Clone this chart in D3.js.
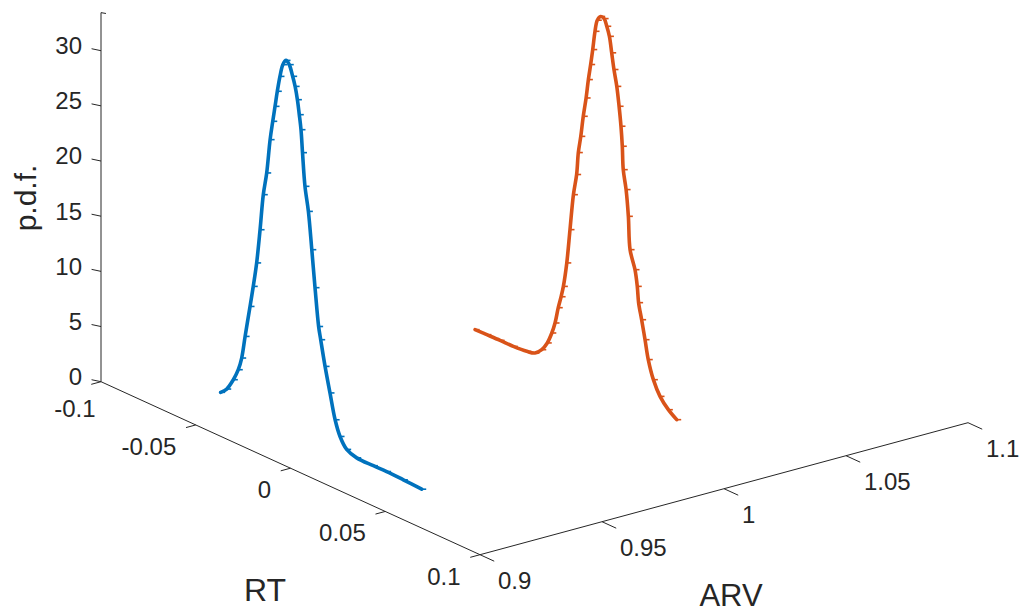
<!DOCTYPE html>
<html>
<head>
<meta charset="utf-8">
<script src="https://cdn.jsdelivr.net/npm/d3@7"></script>
<style>
  body { margin: 0; background: #fff; }
  text { font-family: "Liberation Sans", Arial, Helvetica, sans-serif; fill: #262626; }
</style>
</head>
<body>
<svg id="chart" width="1024" height="614"></svg>
<script>
// Axis ticks
const rtTicks = [-0.1, -0.05, 0, 0.05, 0.1];
const rtTickLabels = ["-0.1", "-0.05", "0", "0.05", "0.1"];
const arvTicks = [0.9, 0.95, 1, 1.05, 1.1];
const arvTickLabels = ["0.9", "0.95", "1", "1.05", "1.1"];
const pdfTicks = [0, 5, 10, 15, 20, 25, 30];
const pdfTickLabels = ["0", "5", "10", "15", "20", "25", "30"];
const pdfMax = 33.45;

// Density of RT drawn at a fixed ARV (blue)
const blueARV = 0.921;
const blueRT = [-0.0639, -0.0607, -0.0572, -0.0546, -0.0528, -0.0510, -0.0484, -0.0467, -0.0449, -0.0431,
  -0.0414, -0.0396, -0.0378, -0.0364, -0.0352, -0.0340, -0.0326, -0.0311, -0.0294, -0.0277,
  -0.0259, -0.0246, -0.0234, -0.0224, -0.0215, -0.0207, -0.0194, -0.0176, -0.0158, -0.0141,
  -0.0122, -0.0111, -0.0088, -0.0062, -0.0035, -0.0009, 0.0026, 0.0079, 0.0167, 0.0237,
  0.0325, 0.0422];
const bluePDF = [0.61, 1.16, 2.28, 3.39, 4.59, 6.69, 9.61, 11.56, 13.83, 16.98,
  20.29, 22.4, 25.56, 27.33, 28.78, 30.24, 31.7, 32.88, 33.4, 33.15,
  32.23, 31.42, 30.31, 29.03, 27.74, 25.72, 22.77, 20.64, 17.31, 14.0,
  10.63, 9.52, 7.28, 5.08, 2.86, 1.55, 0.65, 0.3, 0.28, 0.3,
  0.24, 0.15];

// Density of RT drawn at a fixed ARV (orange)
const orangeARV = 1.0255;
const orangeRT = [-0.0642, -0.0580, -0.0510, -0.0440, -0.0369, -0.0326, -0.0290, -0.0261, -0.0237, -0.0220,
  -0.0203, -0.0188, -0.0176, -0.0158, -0.0141, -0.0123, -0.0106, -0.0097, -0.0084, -0.0071,
  -0.0056, -0.0044, -0.0032, -0.0021, -0.0009, 0.0003, 0.0021, 0.0039, 0.0053, 0.0067,
  0.0079, 0.0091, 0.0106, 0.0118, 0.0128, 0.0135, 0.0140, 0.0155, 0.0167, 0.0176,
  0.0202, 0.0214, 0.0221, 0.0237, 0.0255, 0.0272, 0.0299, 0.0334, 0.0378, 0.0422];
const orangePDF = [0.02, 0.05, 0.08, 0.08, 0.19, 0.38, 0.96, 1.8, 2.89, 3.93,
  5.45, 6.56, 7.59, 9.86, 13.01, 16.32, 18.28, 20.34, 21.91, 23.83,
  25.61, 27.37, 28.83, 30.27, 32.02, 33.12, 33.6, 33.55, 32.96, 32.16,
  30.76, 29.34, 27.93, 26.22, 24.49, 22.73, 20.65, 18.96, 16.63, 13.68,
  12.07, 10.65, 9.23, 7.81, 6.14, 4.47, 2.86, 1.62, 0.76, 0.2];

const series = [
  { arv: blueARV, rt: blueRT, pdf: bluePDF, color: "#0072BD" },
  { arv: orangeARV, rt: orangeRT, pdf: orangePDF, color: "#D95319" }
];

// Oblique 3-D projection: each data axis contributes a screen offset
const origin = [101, 381.7];
const rtX = d3.scaleLinear().domain([-0.1, 0.1]).range([0, 379]);
const rtY = d3.scaleLinear().domain([-0.1, 0.1]).range([0, 173]);
const arvX = d3.scaleLinear().domain([0.9, 1.1]).range([0, 488]);
const arvY = d3.scaleLinear().domain([0.9, 1.1]).range([0, -132]);
const zY = d3.scaleLinear().domain([0, 30]).range([0, -331]);

function proj(rt, arv, z) {
  return [origin[0] + rtX(rt) + arvX(arv), origin[1] + rtY(rt) + arvY(arv) + zY(z)];
}

const svg = d3.select("#chart");
const axisColor = "#262626";
const tickFont = 24;

const axes = svg.append("g").attr("stroke", axisColor).attr("stroke-width", 1).attr("fill", "none");

function seg(a, b) {
  axes.append("line").attr("x1", a[0]).attr("y1", a[1]).attr("x2", b[0]).attr("y2", b[1]);
}

// z axis (p.d.f.)
seg(proj(-0.1, 0.9, 0), proj(-0.1, 0.9, pdfMax));
seg(proj(-0.1, 0.9, pdfMax), proj(-0.1 + 0.0016, 0.9 + 0.0008, pdfMax));
pdfTicks.forEach((t, i) => {
  const p = proj(-0.1, 0.9, t);
  const q = proj(-0.1 - 0.0033, 0.9 - 0.0013, t);
  seg(p, q);
  svg.append("text").attr("x", p[0] - 19).attr("y", p[1] - 5).attr("dy", "0.35em")
    .attr("text-anchor", "end").attr("font-size", tickFont).text(pdfTickLabels[i]);
});

// RT axis; the first label sits lower to clear the z-axis "0"
seg(proj(-0.1, 0.9, 0), proj(0.1, 0.9, 0));
rtTicks.forEach((t, i) => {
  const p = proj(t, 0.9, 0);
  const q = proj(t, 0.9 - 0.004, 0);
  seg(p, q);
  const dx = i === 0 ? -5.5 : -19.5;
  const dy = i === 0 ? 26.5 : 21.5;
  svg.append("text").attr("x", p[0] + dx).attr("y", p[1] + dy).attr("dy", "0.35em")
    .attr("text-anchor", "end").attr("font-size", tickFont).text(rtTickLabels[i]);
});

// ARV axis
seg(proj(0.1, 0.9, 0), proj(0.1, 1.1, 0));
arvTicks.forEach((t, i) => {
  const p = proj(0.1, t, 0);
  const q = proj(0.1 + 0.0075, t, 0);
  seg(p, q);
  svg.append("text").attr("x", p[0] + 18).attr("y", p[1] + 25.5).attr("dy", "0.35em")
    .attr("text-anchor", "start").attr("font-size", tickFont).text(arvTickLabels[i]);
});

// Axis titles
svg.append("text").attr("transform", "translate(36,198) rotate(-90)")
  .attr("text-anchor", "middle").attr("font-size", 30).text("p.d.f.");
svg.append("text").attr("x", 265).attr("y", 601)
  .attr("text-anchor", "middle").attr("font-size", 32).text("RT");
svg.append("text").attr("x", 731).attr("y", 606)
  .attr("text-anchor", "middle").attr("font-size", 31).text("ARV");

// Density curves with point markers
series.forEach(s => {
  const pts = s.rt.map((r, i) => proj(r, s.arv, s.pdf[i]));
  svg.append("path")
    .attr("d", d3.line().curve(d3.curveCatmullRom.alpha(0.5))(pts))
    .attr("fill", "none").attr("stroke", s.color).attr("stroke-width", 3.6)
    .attr("stroke-linejoin", "round").attr("stroke-linecap", "round");
  svg.append("g").selectAll("path").data(pts).join("path")
    .attr("d", d => `M${d[0] - 1},${d[1]}h5.5`)
    .attr("stroke", s.color).attr("stroke-width", 1.6).attr("fill", "none");
});
</script>
</body>
</html>
